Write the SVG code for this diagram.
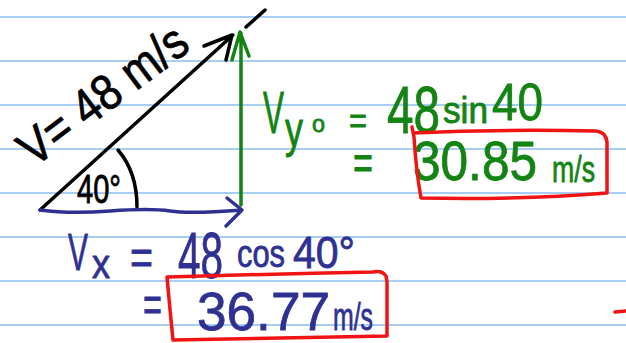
<svg xmlns="http://www.w3.org/2000/svg" width="626" height="343" viewBox="0 0 626 343">
<style>
.rule{stroke:#a8cdf4;stroke-width:2}
.ink{fill:none;stroke-linecap:round;stroke-linejoin:round;stroke-width:3.5}
.k{stroke:#000}
.g{stroke:#138413}
.b{stroke:#2f3192}
.r{stroke:#f01414;stroke-width:3.5}
text{font-family:"Liberation Sans","DejaVu Sans",sans-serif;stroke-width:0.8;stroke-linejoin:round}
.tk{fill:#000;stroke:#000}
.tg{fill:#138413;stroke:#138413}
.tb{fill:#2f3192;stroke:#2f3192}
</style>
<rect width="626" height="343" fill="#fff"/>
<g id="paper">
<line class="rule" x1="0" y1="17" x2="626" y2="17"/>
<line class="rule" x1="0" y1="61" x2="626" y2="61"/>
<line class="rule" x1="0" y1="105" x2="626" y2="105"/>
<line class="rule" x1="0" y1="149" x2="626" y2="149"/>
<line class="rule" x1="0" y1="193" x2="626" y2="193"/>
<line class="rule" x1="0" y1="237" x2="626" y2="237"/>
<line class="rule" x1="0" y1="281" x2="626" y2="281"/>
<line class="rule" x1="0" y1="325" x2="626" y2="325"/>
</g>
<g id="connectors">
<path class="ink k" d="M40,210 L233,35 M204,46 L232,35 L226,60"/>
<path class="ink k" d="M246,27 L265,10"/>
<path class="ink k" d="M118,150 Q137,172 137,207"/>
<path class="ink g" d="M241,205 L241,33 M232,60 L240,32 L249,56"/>
<path class="ink b" d="M40,210 Q70,214 110,211 T170,211 T242,210 M227,198 L242,210 L226,226"/>
</g>
<g id="velocity">
<text class="tk" font-size="50" transform="translate(34,168) rotate(-37)" textLength="198" lengthAdjust="spacingAndGlyphs">V= 48 m/s</text>
<text class="tk" x="77" y="203" font-size="40" textLength="44" lengthAdjust="spacingAndGlyphs">40°</text>
</g>
<g id="vy">
<text class="tg" font-size="60"><tspan x="263" y="133" textLength="21" lengthAdjust="spacingAndGlyphs">V</tspan><tspan x="285" y="147" font-size="50" textLength="18" lengthAdjust="spacingAndGlyphs">y</tspan><tspan x="312" y="132" font-size="24" textLength="13" lengthAdjust="spacingAndGlyphs">o</tspan><tspan x="349" y="133" font-size="36" textLength="18" lengthAdjust="spacingAndGlyphs">=</tspan><tspan x="387" y="133" font-size="66" textLength="53" lengthAdjust="spacingAndGlyphs">48</tspan><tspan x="443" y="123" font-size="36" textLength="45" lengthAdjust="spacingAndGlyphs">sin</tspan><tspan x="492" y="120" font-size="52" textLength="51" lengthAdjust="spacingAndGlyphs">40</tspan></text>
<text class="tg" font-size="48"><tspan x="353" y="179" textLength="20" lengthAdjust="spacingAndGlyphs">=</tspan><tspan x="413" y="180" font-size="56" textLength="124" lengthAdjust="spacingAndGlyphs">30.85</tspan><tspan x="552" y="182" font-size="36" textLength="43" lengthAdjust="spacingAndGlyphs">m/s</tspan></text>
<path class="ink r" d="M412,127 L414,137 Q416,170 421,198 Q520,200 607,193 L607,142 Q606,132 596,131 Q500,129 413,133"/>
</g>
<g id="vx">
<text class="tb" font-size="52"><tspan x="68" y="270" textLength="20" lengthAdjust="spacingAndGlyphs">V</tspan><tspan x="92" y="278" font-size="40" textLength="18" lengthAdjust="spacingAndGlyphs">x</tspan><tspan x="130" y="274" font-size="50" textLength="23" lengthAdjust="spacingAndGlyphs">=</tspan><tspan x="178" y="278" font-size="64" textLength="45" lengthAdjust="spacingAndGlyphs">48</tspan><tspan x="237" y="267" font-size="38" textLength="48" lengthAdjust="spacingAndGlyphs">cos</tspan><tspan x="293" y="268" font-size="44" textLength="62" lengthAdjust="spacingAndGlyphs">40°</tspan></text>
<text class="tb" font-size="50"><tspan x="143" y="321" textLength="19" lengthAdjust="spacingAndGlyphs">=</tspan><tspan x="197" y="330" font-size="53" textLength="133" lengthAdjust="spacingAndGlyphs">36.77</tspan><tspan x="333" y="330" font-size="38" textLength="40" lengthAdjust="spacingAndGlyphs">m/s</tspan></text>
<path class="ink r" d="M167,277 Q270,274 373,272 Q382,270 386,276 L387,282 L387,336 Q280,338 173,340 Q170,310 167,277"/>
</g>
<path class="ink r" d="M615,312 L626,311"/>
</svg>
